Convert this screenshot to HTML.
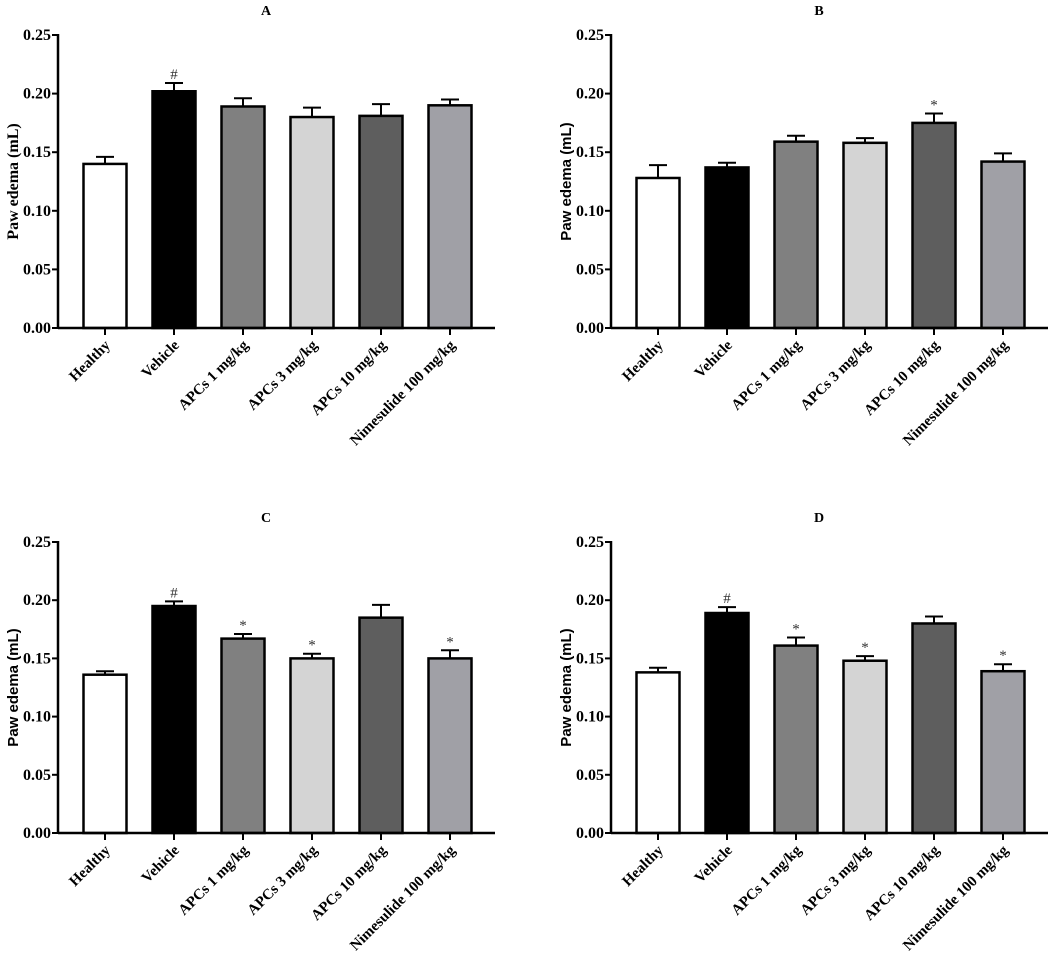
<!DOCTYPE html>
<html><head><meta charset="utf-8"><style>
html,body{margin:0;padding:0;background:#fff;}
svg{display:block;}
</style></head><body>
<svg id="chart" width="1052" height="961" xmlns="http://www.w3.org/2000/svg"></svg>
<script>
const categories = ["Healthy","Vehicle","APCs 1 mg/kg","APCs 3 mg/kg","APCs 10 mg/kg","Nimesulide 100 mg/kg"];
const yTicks = ["0.00","0.05","0.10","0.15","0.20","0.25"];
const valuesA = [0.140,0.202,0.189,0.180,0.181,0.190];
const errorsA = [0.006,0.007,0.007,0.008,0.010,0.005];
const marksA = ["","#","","","",""];
const valuesB = [0.128,0.137,0.159,0.158,0.175,0.142];
const errorsB = [0.011,0.004,0.005,0.004,0.008,0.007];
const marksB = ["","","","","*",""];
const valuesC = [0.136,0.195,0.167,0.150,0.185,0.150];
const errorsC = [0.003,0.004,0.004,0.004,0.011,0.007];
const marksC = ["","#","*","*","","*"];
const valuesD = [0.138,0.189,0.161,0.148,0.180,0.139];
const errorsD = [0.004,0.005,0.007,0.004,0.006,0.006];
const marksD = ["","#","*","*","","*"];
const fills = ["#ffffff","#000000","#808080","#d4d4d4","#5e5e5e","#a0a0a6"];

const svg = document.getElementById('chart');
const NS = "http://www.w3.org/2000/svg";
function mk(tag, attrs, parent){
  const e = document.createElementNS(NS, tag);
  for (const k in attrs) e.setAttribute(k, attrs[k]);
  (parent||svg).appendChild(e);
  return e;
}
const panels = [
  {id:"a", title:"A", ax:58, top:35, bottom:328, vals:valuesA, errs:errorsA, marks:marksA, serifY:true},
  {id:"b", title:"B", ax:611, top:35, bottom:328, vals:valuesB, errs:errorsB, marks:marksB, serifY:false},
  {id:"c", title:"C", ax:58, top:542, bottom:833, vals:valuesC, errs:errorsC, marks:marksC, serifY:false},
  {id:"d", title:"D", ax:611, top:542, bottom:833, vals:valuesD, errs:errorsD, marks:marksD, serifY:false}
];
const serif = '"Liberation Serif", serif';
const sans = '"Liberation Sans", sans-serif';
panels.forEach(p => {
  const g = mk('g', {});
  
  
  const y = v => p.bottom - (v/0.25)*(p.bottom - p.top);
  const x = i => p.ax + 47 + i*69;
  const axEnd = p.ax + 437;
  const t = mk('text', {x: p.ax+208, y: p.top-20, 'font-family': serif, 'font-weight':'bold', 'font-size':'14', 'text-anchor':'middle'}, g);
  t.textContent = p.title;
  
  
  p.vals.forEach((v,i) => {
    const cx = x(i), yt = y(v), ye = y(v + p.errs[i]);
    const eb = mk('line', {x1:cx, x2:cx, y1:yt, y2:ye, stroke:'#000', 'stroke-width':'2'}, g);
    
    
    const cap = mk('line', {x1:cx-9, x2:cx+9, y1:ye, y2:ye, stroke:'#000', 'stroke-width':'2'}, g);
    
    
    const r = mk('rect', {x:cx-21.5, y:yt, width:43, height:p.bottom-yt, fill:fills[i], stroke:'#000', 'stroke-width':'2.5'}, g);
    
    
    if (p.marks[i]) {
      const m = mk('text', {x:cx, y:ye-4, 'font-family': serif, 'font-size':'15', fill:'#333', 'text-anchor':'middle'}, g);
      m.textContent = p.marks[i];
      
      
    }
    const tk = mk('line', {x1:cx, x2:cx, y1:p.bottom, y2:p.bottom+7, stroke:'#000', 'stroke-width':'2'}, g);
    
    
    const lb = mk('text', {x:cx+6, y:p.bottom+18, 'font-family': serif, 'font-weight':'bold', 'font-size':'15', 'text-anchor':'end', transform:`rotate(-45 ${cx+6} ${p.bottom+18})`}, g);
    lb.textContent = categories[i];
    
    
  });
  const xa = mk('line', {x1:p.ax, x2:axEnd, y1:p.bottom, y2:p.bottom, stroke:'#000', 'stroke-width':'2.5'}, g);
  
  
  const ya = mk('line', {x1:p.ax, x2:p.ax, y1:p.top-1, y2:p.bottom+1, stroke:'#000', 'stroke-width':'2.5'}, g);
  
  
  yTicks.forEach((lab, j) => {
    const yy = y(parseFloat(lab));
    const tk = mk('line', {x1:p.ax-6, x2:p.ax, y1:yy, y2:yy, stroke:'#000', 'stroke-width':'2'}, g);
    
    
    const tl = mk('text', {x:p.ax-7, y:yy+5, 'font-family': serif, 'font-weight':'bold', 'font-size':'16', 'text-anchor':'end'}, g);
    tl.textContent = lab;
    
    
  });
  const cy = (p.top + p.bottom)/2;
  const tx = p.ax - 40;
  const yt = mk('text', {x:tx, y:cy, 'font-family': p.serifY ? serif : sans, 'font-weight':'bold', 'font-size': p.serifY ? '16' : '15', 'text-anchor':'middle', transform:`rotate(-90 ${tx} ${cy})`}, g);
  yt.textContent = 'Paw edema (mL)';
  
  
});
</script>
</body></html>
